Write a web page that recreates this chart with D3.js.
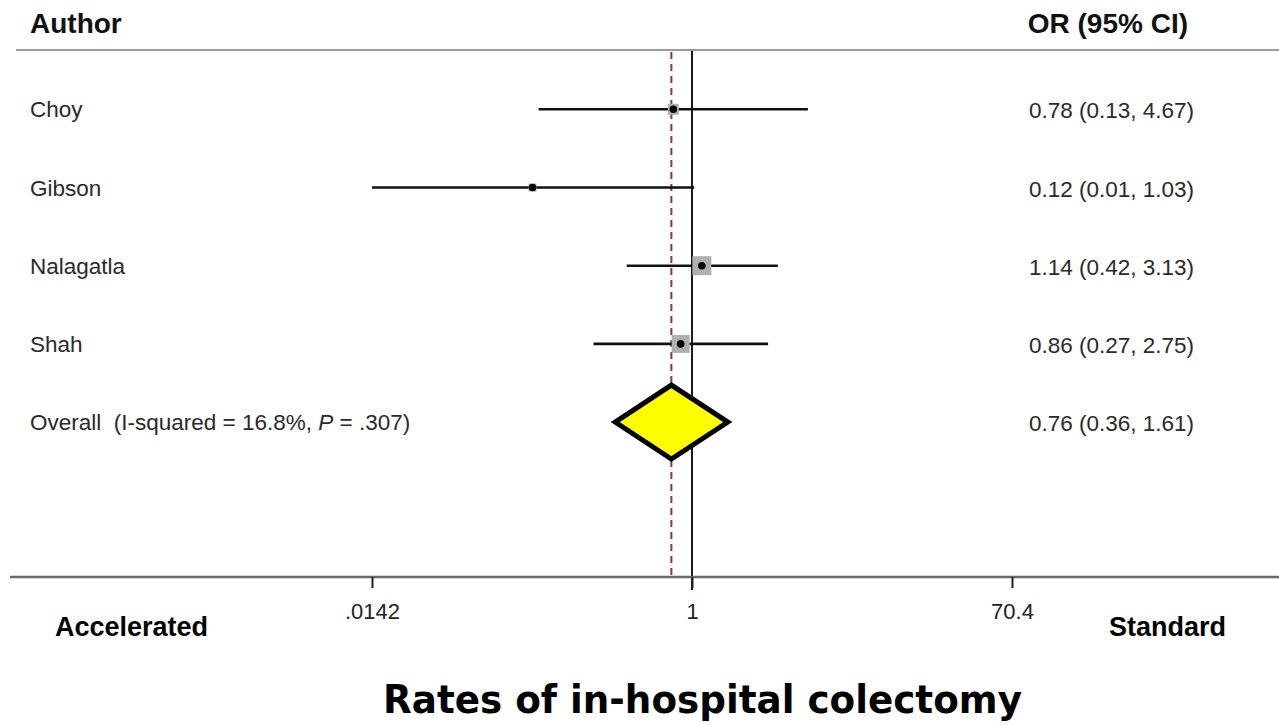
<!DOCTYPE html>
<html>
<head>
<meta charset="utf-8">
<script src="https://cdn.jsdelivr.net/npm/d3@7"></script>
<style>
  html, body { margin: 0; padding: 0; background: #fff; }
  svg { display: block; }
  .keep-space { white-space: pre; }
</style>
</head>
<body>
<svg id="chart" width="1279" height="725"></svg>
<script>
// Study-level odds ratios with 95% confidence intervals
const authors   = ["Choy", "Gibson", "Nalagatla", "Shah"];
const oddsRatio = [0.78, 0.12, 1.14, 0.86];
const ciLower   = [0.13, 0.01, 0.42, 0.27];
const ciUpper   = [4.67, 1.03, 3.13, 2.75];
const weights   = [13.9, 7.4, 41.5, 37.2];   // study weights (%)

// Pooled random-effects estimate
const pooledOR = 0.76;
const pooledLo = 0.36;
const pooledHi = 1.61;
const iSquared = "16.8%";
const pValue   = ".307";

// Axis ticks
const tickValues = [0.0142, 1, 70.4];
const tickLabels = [".0142", "1", "70.4"];

const svg = d3.select("#chart");
const W = 1279;
const sansFont = "'Liberation Sans', Arial, sans-serif";
const fmt = d3.format(".2f");

// Log-scaled x axis for odds ratios
const x = d3.scaleLog().domain([tickValues[0], tickValues[tickValues.length - 1]]).range([372, 1012]);
// Row positions (studies, then the pooled row)
const y = d3.scaleLinear().domain([0, 1]).range([109.3, 187.5]);
const axisY = 577;
const headerY = 50;

const rows = authors.map((a, i) => ({
  author: a, or: oddsRatio[i], lo: ciLower[i], hi: ciUpper[i], w: weights[i], i
}));
const pooledRow = authors.length;

// Header
svg.append("text").attr("x", 30).attr("y", 33)
  .attr("font-family", sansFont).attr("font-weight", "bold").attr("font-size", 28)
  .attr("fill", "#111").text("Author");
svg.append("text").attr("x", 1188).attr("y", 33).attr("text-anchor", "end")
  .attr("font-family", sansFont).attr("font-weight", "bold").attr("font-size", 28)
  .attr("fill", "#111").text("OR (95% CI)");
svg.append("line").attr("x1", 16).attr("x2", W).attr("y1", headerY).attr("y2", headerY)
  .attr("stroke", "#9a9a9a").attr("stroke-width", 2);

// Reference lines: null effect and pooled estimate
svg.append("line").attr("x1", x(1)).attr("x2", x(1)).attr("y1", headerY + 1).attr("y2", axisY + 13)
  .attr("stroke", "#1a1a1a").attr("stroke-width", 2);
svg.append("line").attr("x1", x(pooledOR)).attr("x2", x(pooledOR)).attr("y1", headerY + 2).attr("y2", axisY)
  .attr("stroke", "#8e3340").attr("stroke-width", 2).attr("stroke-dasharray", "7,5");

// Confidence interval lines (clipped to the axis range)
const [dMin, dMax] = x.domain();
svg.append("g").selectAll("line").data(rows).join("line")
  .attr("x1", d => x(Math.max(d.lo, dMin)))
  .attr("x2", d => x(Math.min(d.hi, dMax)))
  .attr("y1", d => y(d.i)).attr("y2", d => y(d.i))
  .attr("stroke", "#111").attr("stroke-width", 2.6);

// Weight squares
const side = d3.scaleSqrt().domain([0, 41.5]).range([0, 19]);
svg.append("g").selectAll("rect").data(rows).join("rect")
  .attr("x", d => x(d.or) - side(d.w) / 2)
  .attr("y", d => y(d.i) - side(d.w) / 2)
  .attr("width", d => side(d.w)).attr("height", d => side(d.w))
  .attr("fill", "#b0b0b0");

// Point estimates
svg.append("g").selectAll("circle").data(rows).join("circle")
  .attr("cx", d => x(d.or)).attr("cy", d => y(d.i)).attr("r", 3.8)
  .attr("fill", "#000");

// Pooled diamond
const py = y(pooledRow);
const halfH = 37;
svg.append("path")
  .attr("d", `M${x(pooledLo)},${py} L${x(pooledOR)},${py - halfH} L${x(pooledHi)},${py} L${x(pooledOR)},${py + halfH} Z`)
  .attr("fill", "#ffff00").attr("stroke", "#000").attr("stroke-width", 5)
  .attr("stroke-linejoin", "miter");

// Row labels
svg.append("g").selectAll("text").data(rows).join("text")
  .attr("x", 30).attr("y", d => y(d.i) + 8)
  .attr("font-family", sansFont).attr("font-size", 22.5).attr("fill", "#2a2a2a")
  .text(d => d.author);

const overall = svg.append("text").attr("class", "keep-space").attr("x", 30).attr("y", py + 8)
  .attr("font-family", sansFont).attr("font-size", 22.5).attr("fill", "#2a2a2a");
overall.append("tspan").text(`Overall  (I-squared = ${iSquared}, `);
overall.append("tspan").attr("font-style", "italic").text("P");
overall.append("tspan").text(` = ${pValue})`);

// Estimate labels
svg.append("g").selectAll("text").data(rows).join("text")
  .attr("x", 1194).attr("y", d => y(d.i) + 9).attr("text-anchor", "end")
  .attr("font-family", sansFont).attr("font-size", 22.5).attr("fill", "#2a2a2a")
  .text(d => `${fmt(d.or)} (${fmt(d.lo)}, ${fmt(d.hi)})`);
svg.append("text")
  .attr("x", 1194).attr("y", py + 9).attr("text-anchor", "end")
  .attr("font-family", sansFont).attr("font-size", 22.5).attr("fill", "#2a2a2a")
  .text(`${fmt(pooledOR)} (${fmt(pooledLo)}, ${fmt(pooledHi)})`);

// X axis
svg.append("line").attr("x1", 10).attr("x2", W).attr("y1", axisY).attr("y2", axisY)
  .attr("stroke", "#6a6a6a").attr("stroke-width", 2.5);
const axis = d3.axisBottom(x)
  .tickValues(tickValues)
  .tickFormat((d, i) => tickLabels[i])
  .tickSize(11).tickPadding(15);
const gAxis = svg.append("g").attr("transform", `translate(0,${axisY})`).call(axis);
gAxis.select(".domain").remove();
gAxis.selectAll(".tick line").attr("stroke", "#222").attr("stroke-width", 2);
gAxis.selectAll(".tick text")
  .attr("font-family", sansFont).attr("font-size", 22).attr("fill", "#222");

// Direction labels
svg.append("text").attr("x", 55).attr("y", 636)
  .attr("font-family", sansFont).attr("font-weight", "bold").attr("font-size", 27)
  .attr("fill", "#000").text("Accelerated");
svg.append("text").attr("x", 1226).attr("y", 636).attr("text-anchor", "end")
  .attr("font-family", sansFont).attr("font-weight", "bold").attr("font-size", 27)
  .attr("fill", "#000").text("Standard");

// Title
svg.append("text").attr("x", 702.5).attr("y", 713).attr("text-anchor", "middle")
  .attr("font-family", "'DejaVu Sans', Verdana, sans-serif").attr("font-weight", "bold")
  .attr("font-size", 39).attr("textLength", 639).attr("lengthAdjust", "spacingAndGlyphs")
  .attr("fill", "#000").text("Rates of in-hospital colectomy");
</script>
</body>
</html>
